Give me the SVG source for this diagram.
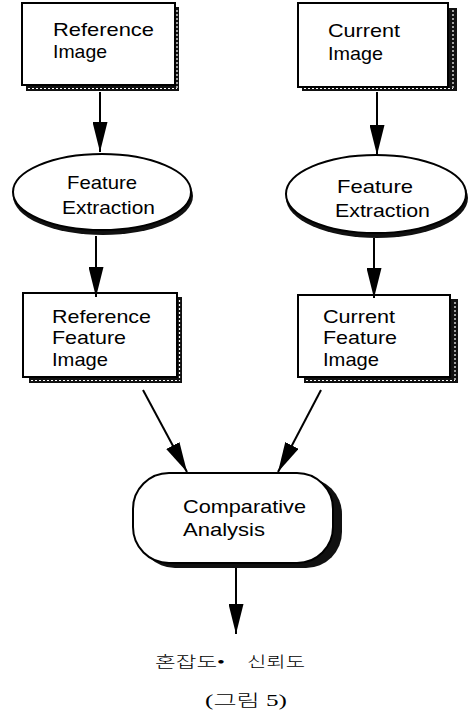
<svg xmlns="http://www.w3.org/2000/svg" width="469" height="722" viewBox="0 0 469 722">
<style>
.box{fill:#fff;stroke:#000;stroke-width:2}
.shadow{fill:#111}
.hatch{fill:none;stroke:#fff;stroke-width:1.2;stroke-dasharray:2 2}
.lbl{font-family:"Liberation Sans",Arial,sans-serif;font-size:19px;fill:#000}
.ko{font-family:"Liberation Serif","Noto Sans CJK KR",serif;font-size:15px;font-weight:300;fill:#000}
.conn{stroke:#000;stroke-width:2;fill:none;marker-end:url(#ah)}
</style>
<defs>
<marker id="ah" markerUnits="userSpaceOnUse" markerWidth="30" markerHeight="15" refX="30" refY="7.5" orient="auto">
<path d="M0,0 L30,7.5 L0,15 Z" fill="#000"/>
</marker>
</defs>
<rect width="469" height="722" fill="#fff"/>

<g id="ref-image">
<rect class="shadow" x="26" y="7" width="153" height="84"/>
<path class="hatch" d="M177,10 V88 M28,88.5 H177"/>
<rect class="box" x="22" y="3" width="153" height="82"/>
<text class="lbl" x="53" y="36" textLength="101" lengthAdjust="spacingAndGlyphs">Reference</text>
<text class="lbl" x="53" y="58" textLength="54" lengthAdjust="spacingAndGlyphs">Image</text>
</g>

<g id="cur-image">
<rect class="shadow" x="302" y="8" width="155" height="83"/>
<path class="hatch" d="M453,10 V88 M304,88.5 H453"/>
<rect class="box" x="298" y="3" width="150" height="84"/>
<text class="lbl" x="328" y="37" textLength="72" lengthAdjust="spacingAndGlyphs">Current</text>
<text class="lbl" x="328" y="60" textLength="55" lengthAdjust="spacingAndGlyphs">Image</text>
</g>

<g id="ref-extract">
<ellipse class="shadow" cx="103" cy="196" rx="90" ry="39"/>
<ellipse class="box" cx="102" cy="192" rx="89" ry="38"/>
<text class="lbl" x="67" y="189" textLength="70" lengthAdjust="spacingAndGlyphs">Feature</text>
<text class="lbl" x="62" y="214" textLength="93" lengthAdjust="spacingAndGlyphs">Extraction</text>
</g>

<g id="cur-extract">
<ellipse class="shadow" cx="377" cy="198" rx="91" ry="40"/>
<ellipse class="box" cx="376" cy="194" rx="90" ry="39"/>
<text class="lbl" x="337" y="193" textLength="76" lengthAdjust="spacingAndGlyphs">Feature</text>
<text class="lbl" x="335" y="217" textLength="95" lengthAdjust="spacingAndGlyphs">Extraction</text>
</g>

<g id="ref-feature">
<rect class="shadow" x="29" y="297" width="153" height="86"/>
<path class="hatch" d="M179.5,300 V381 M31,380.5 H179"/>
<rect class="box" x="23" y="293" width="154" height="84"/>
<text class="lbl" x="52" y="323" textLength="99" lengthAdjust="spacingAndGlyphs">Reference</text>
<text class="lbl" x="52" y="344" textLength="74" lengthAdjust="spacingAndGlyphs">Feature</text>
<text class="lbl" x="52" y="366" textLength="56" lengthAdjust="spacingAndGlyphs">Image</text>
</g>

<g id="cur-feature">
<rect class="shadow" x="304" y="299" width="154" height="84"/>
<path class="hatch" d="M455,302 V381 M306,380.5 H455"/>
<rect class="box" x="298" y="295" width="152" height="82"/>
<text class="lbl" x="323" y="323" textLength="72" lengthAdjust="spacingAndGlyphs">Current</text>
<text class="lbl" x="323" y="344" textLength="74" lengthAdjust="spacingAndGlyphs">Feature</text>
<text class="lbl" x="323" y="366" textLength="56" lengthAdjust="spacingAndGlyphs">Image</text>
</g>

<g id="comparative">
<rect class="shadow" x="139" y="478" width="203" height="90" rx="36" ry="36"/>
<rect class="box" x="133" y="473" width="200" height="90" rx="36" ry="36"/>
<text class="lbl" x="183" y="513" textLength="123" lengthAdjust="spacingAndGlyphs">Comparative</text>
<text class="lbl" x="183" y="536" textLength="82" lengthAdjust="spacingAndGlyphs">Analysis</text>
</g>

<g id="result">
<text class="ko" y="667"><tspan x="155" textLength="70" lengthAdjust="spacingAndGlyphs">혼잡도•</tspan> <tspan x="247" textLength="58" lengthAdjust="spacingAndGlyphs">신뢰도</tspan></text>
<text class="ko" x="205" y="706" textLength="82" lengthAdjust="spacingAndGlyphs" style="font-size:16px">(그림 5)</text>
</g>

<g id="connectors">
<line class="conn" x1="100" y1="92" x2="100" y2="152"/>
<line class="conn" x1="377" y1="92" x2="377" y2="155"/>
<line class="conn" x1="96" y1="236" x2="96" y2="297"/>
<line class="conn" x1="374" y1="238" x2="374" y2="298"/>
<line class="conn" x1="143" y1="390" x2="187" y2="472"/>
<line class="conn" x1="321" y1="390" x2="278" y2="472"/>
<line class="conn" x1="236" y1="568" x2="236" y2="634"/>
</g>
</svg>
